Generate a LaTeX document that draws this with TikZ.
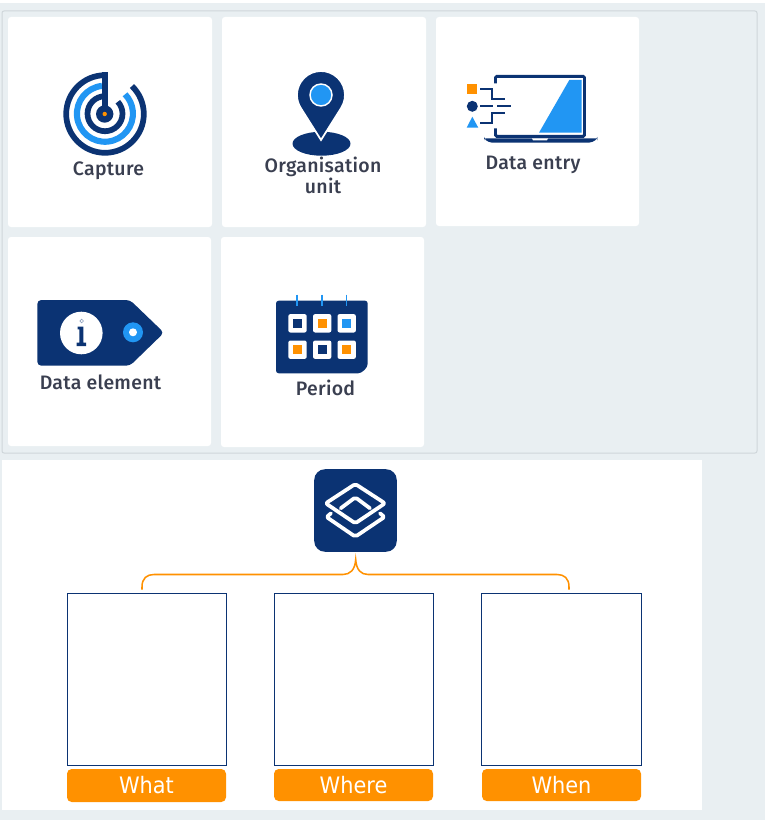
\documentclass[tikz,border=0pt]{standalone}
\usepackage{fontspec}
\setmainfont{Fira Sans Medium}[LetterSpace=1.5]
\newfontfamily\btnfont{DejaVu Sans}[FakeStretch=0.92]
\definecolor{pagebg}{HTML}{E9EFF2}
\definecolor{panelline}{HTML}{CFD6DA}
\definecolor{navy}{HTML}{0B3373}
\definecolor{skyblue}{HTML}{2196F3}
\definecolor{amber}{HTML}{FF9100}
\definecolor{labelgrey}{HTML}{3A3F50}
\tikzset{
  x=0.75pt,y=-0.75pt,
  panel/.style={draw=panelline,line width=0.75pt,fill=pagebg,rounded corners=1.5pt,inner sep=0,outer sep=0},
  card/.style={fill=white,rounded corners=2.2pt,inner sep=0,outer sep=0},
  blank/.style={fill=white,inner sep=0,outer sep=0},
  answerbox/.style={draw=navy,line width=0.75pt,fill=white,inner sep=0,outer sep=0,minimum height=129pt},
  button/.style={fill=amber,rounded corners=3.5pt,text=white,inner sep=0,outer sep=0,minimum width=119.25pt,font=\btnfont\fontsize{17pt}{19pt}\selectfont},
  cardlabel/.style={text=labelgrey,align=center,inner sep=0,font=\fontsize{14.6pt}{14.2pt}\selectfont},
  navyline/.style={draw=navy,line cap=butt},
  whiteline/.style={draw=white,line width=2.8pt,line join=round,line cap=round},
  brace/.style={draw=amber,line width=1.15pt,line cap=butt},
  cell/.style={fill=white,rounded corners=1.6pt},
}
\begin{document}
\begin{tikzpicture}
\useasboundingbox (0,0) rectangle (765,820);
\fill[pagebg] (0,3) rectangle (765,820);
\fill[white] (0,0) rectangle (765,3);
\node[panel,minimum width=566.25pt,minimum height=331.5pt] (panel) at (379.5,232) {};
\node[card,minimum width=153pt,minimum height=157.5pt] (c1) at (110,122) {};
\node[card,minimum width=153pt,minimum height=157.5pt] (c2) at (324,122) {};
\node[card,minimum width=152.25pt,minimum height=156.75pt] (c3) at (537.5,121.5) {};
\node[card,minimum width=152.25pt,minimum height=156.75pt] (c4) at (109.5,341.5) {};
\node[card,minimum width=152.25pt,minimum height=157.5pt] (c5) at (322.5,342) {};
\node[blank,minimum width=525pt,minimum height=262.5pt] (lower) at (352,635) {};

% Capture icon
\draw[navy,line width=4.3pt] (105,75.2) arc[start angle=-90,end angle=-406,radius=38.8];
\draw[skyblue,line width=4.6pt] (102,85.9) arc[start angle=-96,end angle=-404,radius=28];
\draw[navy,line width=4.3pt] (105,96.2) arc[start angle=-90,end angle=-403,radius=17.5];
\fill[navy] (101.7,72) rectangle (107.7,114);
\fill[navy] (104.7,114) circle (8.7);
\fill[amber] (104.7,114) circle (2.2);
\node[cardlabel,anchor=base] (t1) at (108.5,175.5) {Capture};

% Organisation unit icon
\fill[navy] (321.5,143.7) ellipse [x radius=29,y radius=12];
\filldraw[fill=navy,draw=white,line width=1.3pt] (321,140) -- (341.1,108.1) arc[start angle=33,end angle=-213,radius=24] -- cycle;
\filldraw[fill=skyblue,draw=white,line width=1.1pt] (321,95) circle (11);
\node[cardlabel] (t2) at (323,175) {Organisation\\unit};

% Data entry icon
\draw[navyline,line width=2.2pt,rounded corners=1pt] (495.5,83.3) -- (495.5,76.3) -- (584.5,76.3) -- (584.5,136.3) -- (495.5,136.3) -- (495.5,128.3);
\fill[skyblue] (569.3,80) -- (581.7,80) -- (581.7,132.7) -- (539,132.7) -- cycle;
\fill[navy,rounded corners=1.5pt] (484,138.3) -- (597.3,138.3) -- (597.3,139) -- (591,142.7) -- (490,142.7) -- (484,139) -- cycle;
\fill[white] (532,138.3) -- (548,138.3) -- (547,140.3) -- (533,140.3) -- cycle;
\fill[amber] (467.3,84.3) rectangle (477.3,94.3);
\fill[navy] (472.3,106.3) circle (5.5);
\fill[skyblue] (472.3,116.7) -- (478.3,127.7) -- (466.7,127.7) -- cycle;
\draw[navyline,line width=1.4pt] (480,89.3) -- (491.7,89.3) -- (491.7,99) -- (505,99);
\draw[navyline,line width=1.4pt] (480,106.3) -- (493.3,106.3) (497.3,106.3) -- (510.7,106.3);
\draw[navyline,line width=1.4pt] (480,122.7) -- (491.7,122.7) -- (491.7,113.3) -- (505,113.3);
\node[cardlabel,anchor=base] (t3) at (533,169) {Data entry};

% Data element icon
\fill[navy,rounded corners=3pt] (37.3,300) -- (130,300) -- (164,332.7) -- (130,365.7) -- (37.3,365.7) -- cycle;
\fill[white] (81.3,333) circle (21.3);
\fill[skyblue] (133,332.3) circle (10);
\fill[white] (133,332.3) circle (4);
\fill[navy] (77.5,326.7) rectangle (83.3,329.3) (79.3,326.7) rectangle (83.3,345) (76.7,342.7) rectangle (86,346);
\draw[navy!45,line width=0.5pt] (81.7,321) circle (1.8);
\node[cardlabel,anchor=base] (t4) at (100.5,389.5) {Data element};

% Period icon
\fill[navy,rounded corners=2pt] (276,300.7) -- (367.7,300.7) -- (367.7,361) arc[start angle=0,end angle=90,radius=12.3] -- (276,373.3) -- cycle;
\draw[skyblue,line width=1.1pt] (297,294.7) -- (297,306) (322,294.7) -- (322,306) (346.3,294.7) -- (346.3,306);
\foreach \cx/\cy/\col in {297.5/323.3/navy,322.2/323.3/amber,346.7/323.3/skyblue,297.5/349.7/amber,322.2/349.7/navy,346.7/349.7/amber}{
  \fill[cell] (\cx-9.2,\cy-9.2) rectangle (\cx+9.2,\cy+9.2);
  \fill[\col] (\cx-4.7,\cy-4.7) rectangle (\cx+4.7,\cy+4.7);
}
\node[cardlabel,anchor=base] (t5) at (325.5,395.5) {Period};

% Layers icon
\node[fill=navy,rounded corners=8pt,inner sep=0,outer sep=0,minimum width=61.9pt,minimum height=61.9pt] (layers) at (355.5,510.5) {};
\draw[whiteline,rounded corners=1.5pt] (355.3,484) -- (385,503.3) -- (355.3,523.3) -- (325.7,503.3) -- cycle;
\draw[whiteline,rounded corners=1.5pt] (340.7,508.3) -- (355.3,497.3) -- (370,508.3);
\draw[whiteline,rounded corners=1.5pt] (331,513.3) -- (326.5,517) -- (355.3,536.7) -- (384.5,517) -- (380,513.3);

% Answer boxes and buttons
\node[answerbox,minimum width=119.25pt] (b1) at (147,679.5) {};
\node[answerbox,minimum width=119.25pt] (b2) at (354,679.5) {};
\node[answerbox,minimum width=120pt] (b3) at (561.5,679.5) {};
\node[button,minimum height=24.75pt] (what) at (146.5,785.5) {What};
\node[button,minimum height=24pt] (where) at (353.5,785) {Where};
\node[button,minimum height=24pt] (when) at (561.5,785) {When};

% Brace
\coordinate (apex) at (355.7,559.5);
\coordinate (leftfoot) at (142,589.5);
\coordinate (rightfoot) at (569,589.5);
\draw[brace] (leftfoot) -- (142,587) .. controls (142,578) and (147,574.5) .. (154,574.5) -- (343,574.5) .. controls (350,574.5) and (355,570) .. (apex) .. controls (356.4,570) and (361,574.5) .. (368,574.5) -- (557,574.5) .. controls (564,574.5) and (569,578) .. (569,587) -- (rightfoot);
\end{tikzpicture}
\end{document}
